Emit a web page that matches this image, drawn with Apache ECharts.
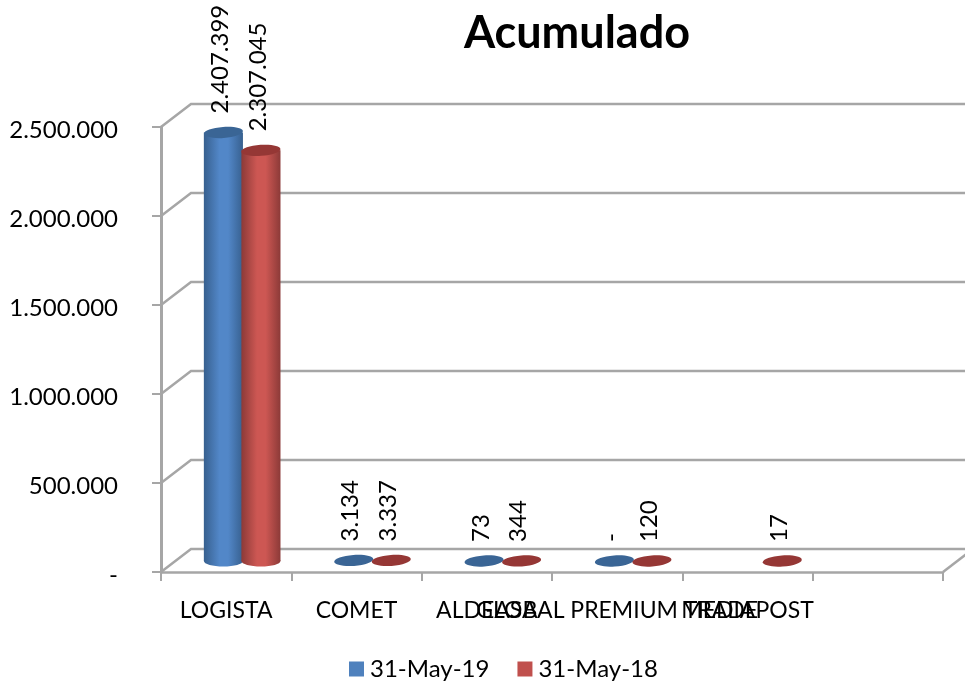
<!DOCTYPE html>
<html><head><meta charset="utf-8">
<style>html,body{margin:0;padding:0;background:#fff}#c{width:965px;height:682px}</style>
<script src="https://cdn.jsdelivr.net/npm/echarts@6/dist/echarts.min.js"></script>
</head><body><div id="c"></div>
<script>
const categories = ['LOGISTA','COMET','ALDEASA','GLOBAL PREMIUM TRADE','MEDIAPOST',''];
const seriesNames = ['31-May-19','31-May-18'];
const may19 = [2407399,3134,73,0,null,null];
const may18 = [2307045,3337,344,120,17,null];
const yTicks = [0,500000,1000000,1500000,2000000,2500000];

const FONT = 'Lato';
const DX = 30, DY = -23;
const GRAY = '#a6a6a6';
const fmt = v => v === 0 ? '-' : String(v).replace(/\B(?=(\d{3})+(?!\d))/g, '.');

function cylinder(side, colors) {
  return function (params, api) {
    const v = api.value(1);
    if (v == null || isNaN(v)) return null;
    const i = api.value(0);
    const top = api.coord([i, v]);
    const base = api.coord([i, 0]);
    const band = api.size([1, 0])[0];
    const rx = band * 0.15;
    const cx = top[0] + 16 + side * band * 0.144;
    const by = base[1] - 11, ty = top[1] - 11;
    const ry = 5.5, tilt = 0.07;
    const grad = new echarts.graphic.LinearGradient(0, 0, 1, 0, [
      {offset: 0, color: colors.edge}, {offset: 0.4, color: colors.mid},
      {offset: 0.62, color: colors.mid}, {offset: 1, color: colors.edge}]);
    const children = [];
    if (by - ty > 1.5) {
      children.push(
        {type: 'ellipse', shape: {cx, cy: by, rx, ry}, style: {fill: grad}},
        {type: 'rect', shape: {x: cx - rx, y: ty, width: 2 * rx, height: by - ty}, style: {fill: grad}});
    }
    children.push({type: 'ellipse', originX: cx, originY: ty, rotation: tilt,
      shape: {cx, cy: ty, rx, ry}, style: {fill: colors.top}});
    children.push({type: 'text', x: cx - 3, y: ty - 19, rotation: Math.PI / 2,
      style: {text: fmt(v), fontFamily: FONT, fontSize: 24, fill: '#000',
        textAlign: 'left', textVerticalAlign: 'middle'}});
    return {type: 'group', children};
  };
}

function wall(params, api) {
  const v = api.value(1);
  const p = api.coord([0, v]);
  const cs = params.coordSys;
  const x0 = cs.x, x1 = cs.x + cs.width;
  const lineStyle = {stroke: GRAY, lineWidth: 2.5, fill: 'none'};
  const children = [{type: 'polyline',
    shape: {points: [[x0, p[1]], [x0 + DX, p[1] + DY], [x1 + DX, p[1] + DY]]}, style: lineStyle}];
  if (v === 0) children.push({type: 'line',
    shape: {x1: x1, y1: p[1], x2: x1 + DX, y2: p[1] + DY}, style: lineStyle});
  return {type: 'group', children};
}

const chart = echarts.init(document.getElementById('c'));
chart.setOption({
  animation: false,
  backgroundColor: '#fff',
  title: {text: 'Acumulado', left: 572, top: 6, textAlign: 'center',
    textStyle: {fontFamily: FONT, fontSize: 45, fontWeight: 'bold', color: '#000'}},
  legend: {data: seriesNames, left: 344, top: 652, icon: 'rect', itemWidth: 15, itemHeight: 15,
    itemGap: 28, textStyle: {fontFamily: FONT, fontSize: 24, color: '#000', padding: [0, 0, 0, 1]}},
  grid: {left: 161, top: 127, width: 782, height: 445, containLabel: false},
  xAxis: {type: 'category', data: categories, boundaryGap: true,
    axisLine: {lineStyle: {color: GRAY, width: 2.5}},
    axisTick: {show: true, alignWithLabel: false, length: 9, lineStyle: {color: GRAY, width: 2}},
    axisLabel: {interval: 0, hideOverlap: false, margin: 27, fontFamily: FONT, fontSize: 23, color: '#000'},
    splitLine: {show: false}},
  yAxis: {type: 'value', min: 0, max: 2500000, interval: 500000,
    axisLine: {show: true, lineStyle: {color: GRAY, width: 3}},
    axisTick: {show: true, length: 9, lineStyle: {color: GRAY, width: 2}},
    axisLabel: {margin: 43, fontFamily: FONT, fontSize: 24, color: '#000', formatter: fmt,
      verticalAlign: 'top', lineHeight: 7},
    splitLine: {show: false}},
  series: [
    {type: 'custom', name: 'wall', silent: true, clip: false, z: 1,
      renderItem: wall, encode: {x: 0, y: 1}, data: yTicks.map(v => [0, v])},
    {type: 'custom', name: seriesNames[0], clip: false, z: 3, itemStyle: {color: '#4f81bd'},
      renderItem: cylinder(-1, {edge: '#37608f', mid: '#5287c8', top: '#3a6595'}),
      encode: {x: 0, y: 1}, data: may19.map((v, i) => [i, v])},
    {type: 'custom', name: seriesNames[1], clip: false, z: 4, itemStyle: {color: '#c0504d'},
      renderItem: cylinder(1, {edge: '#8c3a38', mid: '#cd5753', top: '#953735'}),
      encode: {x: 0, y: 1}, data: may18.map((v, i) => [i, v])}
  ]
});
</script></body></html>
